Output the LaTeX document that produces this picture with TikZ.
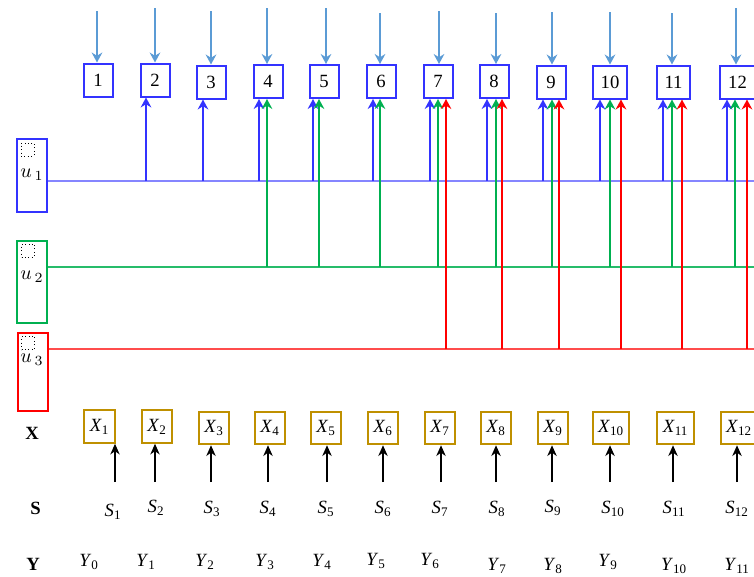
\documentclass[tikz,border=0pt]{standalone}
\usepackage{fontspec}
\setmainfont{Liberation Serif}
\usetikzlibrary{arrows.meta}

\definecolor{numblue}{RGB}{51,51,255}
\definecolor{feedblue}{RGB}{91,155,213}
\definecolor{ugreen}{RGB}{0,176,80}
\definecolor{ured}{RGB}{255,0,0}
\definecolor{xgold}{RGB}{191,144,0}

\tikzset{every picture/.style={line width=0.75pt}}
\tikzset{
  numbox/.style={draw=numblue, line width=1.5pt, minimum width=21.75pt, minimum height=24.75pt, inner xsep=6pt, font=\fontsize{14}{16}\selectfont},
  xbox/.style={draw=xgold, line width=1.5pt, minimum width=22.5pt, minimum height=24.4pt, inner xsep=4.2pt, font=\fontsize{14}{16}\selectfont},
  ubox/.style={line width=1.5pt, minimum width=22.5pt},
  dotsq/.style={draw, dotted, line width=0.6pt, minimum size=9.75pt, inner sep=0pt},
  ulab/.style={inner sep=0.75pt},
  lab/.style={inner sep=0.75pt, font=\fontsize{14}{16}\selectfont},
  rowlab/.style={inner sep=0.75pt, font=\fontsize{14}{16}\selectfont\bfseries},
  feed/.style={feedblue, line width=1.5pt, -{Stealth[length=7.5pt,width=8pt,inset=2.5pt]}},
  barr/.style={numblue, line width=1.5pt, -{Stealth[length=7.5pt,width=8pt,inset=2.5pt]}},
  garr/.style={ugreen, line width=1.5pt, -{Stealth[length=7.5pt,width=8pt,inset=2.5pt]}},
  rarr/.style={ured, line width=1.5pt, -{Stealth[length=7.5pt,width=8pt,inset=2.5pt]}},
  sarr/.style={black, line width=1.5pt, -{Stealth[length=8pt,width=7pt,inset=2.5pt]}},
  line1/.style={numblue!60, line width=1pt},
  line2/.style={ugreen!85, line width=1pt},
  line3/.style={ured!70, line width=1pt}
}

\begin{document}
\begin{tikzpicture}[x=0.75pt,y=0.75pt,yscale=-1,xscale=1]
\useasboundingbox (0,0) rectangle (754,576);

%Shape: Rectangle (numbered boxes)
\node[numbox] (n1) at (98,80) {1};
\node[numbox] (n2) at (155,80) {2};
\node[numbox] (n3) at (211,82) {3};
\node[numbox] (n4) at (268,81.5) {4};
\node[numbox] (n5) at (324,81.5) {5};
\node[numbox] (n6) at (381,81.5) {6};
\node[numbox] (n7) at (438,81.5) {7};
\node[numbox] (n8) at (494,81.5) {8};
\node[numbox] (n9) at (551,82) {9};
\node[numbox] (n10) at (610,82) {10};
\node[numbox] (n11) at (673.5,82) {11};
\node[numbox] (n12) at (737.5,82) {12};

%Straight Lines (arrows from above)
\coordinate (f1) at (97,11);
\coordinate (f2) at (155,8);
\coordinate (f3) at (211,11);
\coordinate (f4) at (267,8);
\coordinate (f5) at (326,8);
\coordinate (f6) at (380,13);
\coordinate (f7) at (439,11);
\coordinate (f8) at (496,13);
\coordinate (f9) at (552,12);
\coordinate (f10) at (610,12);
\coordinate (f11) at (672,13);
\coordinate (f12) at (736,8);
\draw[feed] (f1) -- (f1 |- n1.north);
\draw[feed] (f2) -- (f2 |- n2.north);
\draw[feed] (f3) -- (f3 |- n3.north);
\draw[feed] (f4) -- (f4 |- n4.north);
\draw[feed] (f5) -- (f5 |- n5.north);
\draw[feed] (f6) -- (f6 |- n6.north);
\draw[feed] (f7) -- (f7 |- n7.north);
\draw[feed] (f8) -- (f8 |- n8.north);
\draw[feed] (f9) -- (f9 |- n9.north);
\draw[feed] (f10) -- (f10 |- n10.north);
\draw[feed] (f11) -- (f11 |- n11.north);
\draw[feed] (f12) -- (f12 |- n12.north);

%Shape: Rectangle (u boxes)
\node[ubox, draw=numblue, minimum height=54.75pt] (u1) at (31.5,175.5) {};
\node[ubox, draw=ugreen, minimum height=61.5pt] (u2) at (32,282) {};
\node[ubox, draw=ured, minimum height=58.5pt] (u3) at (32.5,372) {};
\node[dotsq] (d1) at (27.5,149.5) {};
\node[dotsq] (d2) at (28,250.5) {};
\node[dotsq] (d3) at (28,343) {};
% Text Node
\node[ulab] (t1) at (32,175) {\scalebox{1.5}{$u_{\,1}$}};
\node[ulab] (t2) at (32,277) {\scalebox{1.5}{$u_{\,2}$}};
\node[ulab] (t3) at (32,360) {\scalebox{1.5}{$u_{\,3}$}};

%Straight Lines (u lines)
\coordinate (l1) at (754,181);
\coordinate (l2) at (754,267);
\coordinate (l3) at (754,349);
\draw[line1] (u1.east |- l1) -- (l1);
\draw[line2] (u2.east |- l2) -- (l2);
\draw[line3] (u3.east |- l3) -- (l3);

%Straight Lines (blue)
\draw[barr] (146,0 |- l1) -- (146,0 |- n2.south);
\draw[barr] (203,0 |- l1) -- (203,0 |- n3.south);
\draw[barr] (259,0 |- l1) -- (259,0 |- n4.south);
\draw[barr] (313,0 |- l1) -- (313,0 |- n5.south);
\draw[barr] (373,0 |- l1) -- (373,0 |- n6.south);
\draw[barr] (430,0 |- l1) -- (430,0 |- n7.south);
\draw[barr] (487,0 |- l1) -- (487,0 |- n8.south);
\draw[barr] (543,0 |- l1) -- (543,0 |- n9.south);
\draw[barr] (600,0 |- l1) -- (600,0 |- n10.south);
\draw[barr] (663,0 |- l1) -- (663,0 |- n11.south);
\draw[barr] (727,0 |- l1) -- (727,0 |- n12.south);

%Straight Lines (green)
\draw[garr] (267,0 |- l2) -- (267,0 |- n4.south);
\draw[garr] (319,0 |- l2) -- (319,0 |- n5.south);
\draw[garr] (380,0 |- l2) -- (380,0 |- n6.south);
\draw[garr] (438,0 |- l2) -- (438,0 |- n7.south);
\draw[garr] (496,0 |- l2) -- (496,0 |- n8.south);
\draw[garr] (552,0 |- l2) -- (552,0 |- n9.south);
\draw[garr] (610,0 |- l2) -- (610,0 |- n10.south);
\draw[garr] (672,0 |- l2) -- (672,0 |- n11.south);
\draw[garr] (735,0 |- l2) -- (735,0 |- n12.south);

%Straight Lines (red)
\draw[rarr] (446,0 |- l3) -- (446,0 |- n7.south);
\draw[rarr] (502,0 |- l3) -- (502,0 |- n8.south);
\draw[rarr] (559,0 |- l3) -- (559,0 |- n9.south);
\draw[rarr] (621,0 |- l3) -- (621,0 |- n10.south);
\draw[rarr] (682,0 |- l3) -- (682,0 |- n11.south);
\draw[rarr] (747,0 |- l3) -- (747,0 |- n12.south);

%Shape: Rectangle (X boxes)
\node[xbox] (x1) at (99.5,426.5) {\textit{X}\textsubscript{1}};
\node[xbox] (x2) at (157,426.5) {\textit{X}\textsubscript{2}};
\node[xbox] (x3) at (214,428) {\textit{X}\textsubscript{3}};
\node[xbox] (x4) at (270,428) {\textit{X}\textsubscript{4}};
\node[xbox] (x5) at (326,428) {\textit{X}\textsubscript{5}};
\node[xbox] (x6) at (383,428) {\textit{X}\textsubscript{6}};
\node[xbox] (x7) at (440,428) {\textit{X}\textsubscript{7}};
\node[xbox] (x8) at (496,428) {\textit{X}\textsubscript{8}};
\node[xbox] (x9) at (553,428) {\textit{X}\textsubscript{9}};
\node[xbox] (x10) at (611,428) {\textit{X}\textsubscript{10}};
\node[xbox] (x11) at (675.5,428) {\textit{X}\textsubscript{11}};
\node[xbox] (x12) at (739,428) {\textit{X}\textsubscript{12}};

%Straight Lines (S to X)
\coordinate (a1) at (115,482);
\coordinate (a2) at (155,482);
\coordinate (a3) at (211,482);
\coordinate (a4) at (268,482);
\coordinate (a5) at (327,482);
\coordinate (a6) at (383,482);
\coordinate (a7) at (441,482);
\coordinate (a8) at (496,482);
\coordinate (a9) at (552,482);
\coordinate (a10) at (610,482);
\coordinate (a11) at (673,482);
\coordinate (a12) at (737,482);
\draw[sarr] (a1) -- (a1 |- x1.south);
\draw[sarr] (a2) -- (a2 |- x2.south);
\draw[sarr] (a3) -- (a3 |- x3.south);
\draw[sarr] (a4) -- (a4 |- x4.south);
\draw[sarr] (a5) -- (a5 |- x5.south);
\draw[sarr] (a6) -- (a6 |- x6.south);
\draw[sarr] (a7) -- (a7 |- x7.south);
\draw[sarr] (a8) -- (a8 |- x8.south);
\draw[sarr] (a9) -- (a9 |- x9.south);
\draw[sarr] (a10) -- (a10 |- x10.south);
\draw[sarr] (a11) -- (a11 |- x11.south);
\draw[sarr] (a12) -- (a12 |- x12.south);

% Text Node (row labels)
\node[rowlab] (xrow) at (32,433) {X};
\node[rowlab] (srow) at (35.5,508) {S};
\node[rowlab] (yrow) at (33,564) {Y};

% Text Node (S)
\node[lab] (s1) at (113,512) {\textit{S}\textsubscript{1}};
\node[lab] (s2) at (156,508) {\textit{S}\textsubscript{2}};
\node[lab] (s3) at (212,509) {\textit{S}\textsubscript{3}};
\node[lab] (s4) at (268,509) {\textit{S}\textsubscript{4}};
\node[lab] (s5) at (326,509) {\textit{S}\textsubscript{5}};
\node[lab] (s6) at (383,509) {\textit{S}\textsubscript{6}};
\node[lab] (s7) at (440,509) {\textit{S}\textsubscript{7}};
\node[lab] (s8) at (497,509) {\textit{S}\textsubscript{8}};
\node[lab] (s9) at (553,508) {\textit{S}\textsubscript{9}};
\node[lab] (s10) at (613,509) {\textit{S}\textsubscript{10}};
\node[lab] (s11) at (674,509) {\textit{S}\textsubscript{11}};
\node[lab] (s12) at (737,509) {\textit{S}\textsubscript{12}};

% Text Node (Y)
\node[lab] (y0) at (89,562) {\textit{Y}\textsubscript{0}};
\node[lab] (y1) at (146,562) {\textit{Y}\textsubscript{1}};
\node[lab] (y2) at (205,562) {\textit{Y}\textsubscript{2}};
\node[lab] (y3) at (265,562) {\textit{Y}\textsubscript{3}};
\node[lab] (y4) at (322,562) {\textit{Y}\textsubscript{4}};
\node[lab] (y5) at (376,561) {\textit{Y}\textsubscript{5}};
\node[lab] (y6) at (430,561) {\textit{Y}\textsubscript{6}};
\node[lab] (y7) at (497,566) {\textit{Y}\textsubscript{7}};
\node[lab] (y8) at (553,566) {\textit{Y}\textsubscript{8}};
\node[lab] (y9) at (608,562) {\textit{Y}\textsubscript{9}};
\node[lab] (y10) at (674,566) {\textit{Y}\textsubscript{10}};
\node[lab] (y11) at (737,566) {\textit{Y}\textsubscript{11}};

\end{tikzpicture}
\end{document}
